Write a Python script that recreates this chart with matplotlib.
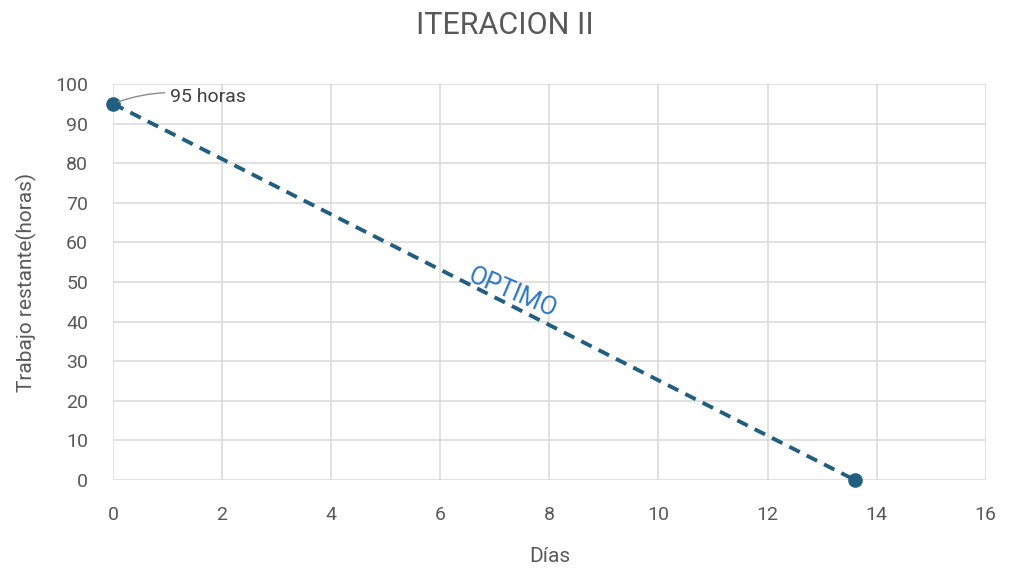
import matplotlib
matplotlib.use("Agg")
import matplotlib.pyplot as plt

dias = [0, 13.6]
trabajo = [95, 0]
x_ticks = [0, 2, 4, 6, 8, 10, 12, 14, 16]
y_ticks = [0, 10, 20, 30, 40, 50, 60, 70, 80, 90, 100]

plt.rcParams['font.family'] = ['Roboto', 'DejaVu Sans']
fig = plt.figure(figsize=(10.09, 5.74), dpi=100)
ax = fig.add_axes([0.112, 0.1638, 0.865, 0.69])

line_color = '#215E80'
gray = '#595959'

ax.plot(dias, trabajo, linestyle=(0, (3.0, 2.0)), color=line_color, linewidth=2.8,
        marker='o', markersize=9.5, zorder=3, clip_on=False)

ax.set_xlim(0, 16)
ax.set_ylim(0, 100)
ax.set_xticks(x_ticks)
ax.set_yticks(y_ticks)
ax.grid(True, color='#d9d9d9', linewidth=1.1)
ax.set_axisbelow(True)
for s in ax.spines.values():
    s.set_visible(False)
ax.tick_params(length=0, labelsize=14, labelcolor=gray)
ax.tick_params(axis='x', pad=19)
ax.tick_params(axis='y', pad=18)

ax.set_xlabel('Días', fontsize=15, color=gray, labelpad=16)
ax.set_ylabel('Trabajo restante(horas)', fontsize=15, color=gray, labelpad=13)
fig.suptitle('ITERACION II', fontsize=22, color=gray, y=0.98)

ax.annotate('95 horas', xy=(dias[0], trabajo[0]), xytext=(1.05, 96.8),
            fontsize=14, color='#404040', va='center', ha='left',
            arrowprops=dict(arrowstyle='-', color='#8c8c8c', lw=1,
                            connectionstyle='arc3,rad=0.15', shrinkA=2, shrinkB=4))

ax.text(7.33, 47.2, 'OPTIMO', fontsize=18, color='#2E75C5', rotation=-23,
        ha='center', va='center', rotation_mode='anchor')

fig.savefig('out.png', dpi=100)
